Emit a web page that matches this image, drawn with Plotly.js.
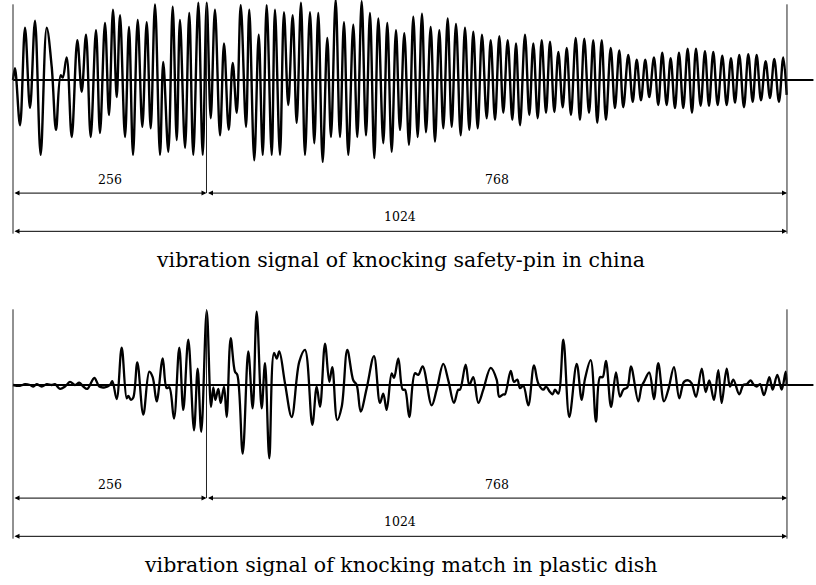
<!DOCTYPE html>
<html><head><meta charset="utf-8">
<script src="https://cdn.plot.ly/plotly-3.0.1.min.js"></script>
<style>html,body{margin:0;padding:0;background:#fff}#c{width:816px;height:585px}</style>
</head><body><div id="c"></div>
<script>
// Top signal: extrema (sample index, amplitude)
const topX = [0,2.6,9.3,15.9,22.5,29.1,36.6,44.6,51.2,56.9,
63.1,65.8,71.0,77.7,85.1,90.9,96.6,102.8,109.8,115.1,
121.7,127.0,132.3,137.2,141.6,148.2,153.5,158.8,165.0,171.1,
176.9,182.2,187.9,194.5,198.8,205.5,211.3,216.6,220.9,227.6,
233.2,238.5,245.2,251.0,256.3,261.6,267.2,273.9,279.2,285.4,
290.7,296.0,301.3,308.3,312.6,319.2,325.1,330.4,335.6,342.3,
346.6,353.2,358.5,364.2,370.0,375.3,381.0,386.3,392.9,398.6,
403.9,409.7,415.8,420.7,426.9,432.6,437.9,443.6,450.2,455.5,
461.3,467.0,472.3,478.0,483.3,489.9,495.2,501.0,506.7,512.0,
517.7,523.9,529.6,535.4,541.1,546.4,552.6,558.3,564.0,569.3,
575.1,580.4,586.1,592.3,598.0,603.7,609.0,614.8,620.5,626.7,
632.0,637.7,643.4,648.7,654.5,660.6,665.5,670.8,677.4,683.1,
688.4,694.2,699.5,705.2,710.5,716.2,721.5,727.3,732.6,738.2,
744.5,750.1,755.8,762.1,767.7,773.0,778.9,784.5,790.8,796.4,
802.1,807.4,814.0,819.9,825.2,830.8,836.5,841.8,848.0,853.7,
859.0,864.8,870.1,875.8,881.1,886.8,892.6,898.3,903.6,909.8,
915.5,920.8,926.5,932.3,938.4,944.2,949.9,955.2,960.9,967.1,
972.8,978.6,983.9,989.6,995.8,1001.5,1007.2,1013.4,1019.1,1023.6];
const topY = [0,0.15,-0.58,0.67,-0.36,0.76,-0.96,0.67,0.17,-0.64,
0.06,0.03,0.29,-0.73,0.51,-0.15,0.58,-0.73,0.64,-0.68,
0.73,-0.45,0.90,-0.22,0.83,-0.73,0.68,-0.96,0.77,-0.60,
0.74,-0.62,0.97,-0.96,0.23,-0.92,0.94,-0.77,0.77,-0.87,
0.86,-0.96,0.99,-0.96,0.99,-0.49,0.90,-0.71,0.47,-0.64,
0.22,-0.42,0.96,-0.60,0.90,-1.03,0.58,-0.96,0.96,-0.96,
0.90,-0.96,0.87,-0.32,0.83,-0.55,0.99,-0.96,0.87,-0.81,
0.86,-1.05,0.54,-0.73,1.03,-0.73,0.74,-0.96,0.71,-0.73,
1.01,-0.71,0.86,-1.0,0.79,-0.81,0.73,-0.92,0.64,-0.64,
0.60,-0.83,0.81,-0.73,0.85,-0.67,0.68,-0.79,0.64,-0.62,
0.79,-0.60,0.72,-0.71,0.67,-0.64,0.62,-0.62,0.58,-0.49,
0.51,-0.51,0.56,-0.42,0.51,-0.51,0.47,-0.58,0.58,-0.45,
0.47,-0.49,0.51,-0.42,0.49,-0.41,0.36,-0.35,0.41,-0.45,
0.54,-0.51,0.53,-0.42,0.51,-0.55,0.51,-0.51,0.41,-0.36,
0.38,-0.35,0.32,-0.28,0.26,-0.26,0.26,-0.22,0.29,-0.32,
0.35,-0.32,0.28,-0.36,0.35,-0.36,0.40,-0.42,0.40,-0.33,
0.37,-0.33,0.36,-0.32,0.31,-0.32,0.28,-0.29,0.32,-0.35,
0.33,-0.28,0.32,-0.26,0.24,-0.23,0.27,-0.28,0.29,-0.19];

// Bottom signal: extrema (sample index, amplitude)
const botX = [0,9.3,15.9,22.5,26.9,31.3,38.0,44.6,51.2,55.6,
62.2,68.8,75.4,82.0,87.7,93.0,98.3,107.6,114.2,121.7,
128.3,131.4,137.2,143.8,150.4,152.5,156.1,159.2,164.5,172.4,
180.3,184.8,190.1,198.1,203.3,206.8,213.0,220.0,225.3,231.9,
239.5,244.3,249.1,256.3,262.0,265.0,267.7,271.6,274.8,279.2,
282.7,288.0,293.7,296.8,303.9,311.3,317.1,322.4,329.0,333.4,
339.1,345.3,348.9,352.3,359.9,368.7,378.8,386.3,396.0,401.8,
406.2,412.8,418.5,422.4,429.0,434.9,442.3,450.2,454.7,460.0,
468.0,477.6,485.5,489.9,494.4,501.0,504.1,509.8,515.6,518.6,
524.3,531.8,536.2,542.0,553.9,560.5,569.3,575.9,583.4,589.1,
591.4,598.9,603.7,609.0,615.6,622.2,632.0,639.9,643.4,648.7,
650.9,658.5,662.8,667.2,670.8,675.2,681.8,689.3,695.0,701.6,
705.2,710.5,714.0,717.0,721.5,728.1,736.0,745.8,752.4,756.8,
764.3,771.3,776.6,780.2,784.5,791.2,797.8,803.1,807.5,812.8,
817.6,827.3,831.8,834.8,841.8,848.0,853.7,861.3,867.0,874.5,
881.5,887.7,893.4,897.9,903.6,911.2,916.5,921.2,927.4,933.1,
937.6,944.2,948.6,953.0,960.9,966.2,970.7,976.0,979.4,983.9,
988.3,993.6,1000.6,1005.1,1011.2,1017.0,1022.3,1023.6];
const botY = [0,-0.01,0.01,0,-0.02,0.01,-0.02,0.01,0,0.01,
-0.05,-0.02,0.04,0,0.03,-0.02,-0.05,0.09,-0.02,-0.03,
0,0.05,-0.18,0.48,-0.17,-0.14,-0.19,-0.16,0.29,-0.38,
0.17,0.10,-0.21,0.34,-0.04,-0.03,-0.43,0.48,-0.32,0.58,
-0.58,0.21,-0.60,0.95,-0.28,-0.03,-0.19,-0.05,-0.23,-0.02,
-0.41,0.60,0.17,0.13,-0.88,0.43,-0.30,0.94,-0.30,0.28,
-0.94,0.41,0.34,0.43,0.02,-0.41,0.30,0.45,-0.51,-0.02,
-0.28,0.53,0.04,0.23,-0.45,-0.28,0.45,0.06,0,-0.34,
-0.04,0.37,-0.23,-0.11,-0.32,0.15,0.09,0.34,-0.06,-0.06,
-0.41,0.15,0.13,0.24,-0.26,-0.06,0.27,0.06,-0.23,-0.06,
-0.06,0.26,0,0.10,-0.23,-0.06,0.22,0.07,-0.15,-0.12,
-0.12,0.18,0.04,0.07,-0.04,-0.01,-0.26,0.25,0.02,-0.06,
-0.02,-0.09,-0.12,-0.06,-0.11,0.58,-0.41,0.27,-0.19,0.08,
0.32,-0.47,0.10,0.10,0.31,-0.28,0.16,-0.15,-0.06,-0.03,
0.24,-0.21,-0.01,0.04,0.16,-0.18,0.28,-0.21,-0.06,0.23,
-0.17,0.04,0.06,0.02,-0.15,0.21,-0.09,0.06,-0.19,0.19,
-0.23,0.21,-0.02,0.07,-0.12,0,0.01,0.06,0.01,-0.02,
0.01,-0.13,0.10,-0.06,0.13,-0.06,0.17,0];

// Segment marks and labels
const splitPoints = [0, 256, 1024];
const segLabels = ["256", "768"];
const totalLabel = "1024";
const titles = ["vibration signal of knocking safety-pin in china",
                "vibration signal of knocking match in plastic dish"];

const serif = "DejaVu Serif, Liberation Serif, serif";
const XR = [-17.2, 1062.4];

const traces = [
  {x: topX, y: topY, xaxis: 'x', yaxis: 'y', mode: 'lines',
   line: {color: '#000', width: 2.4, shape: 'spline', smoothing: 1}, hoverinfo: 'skip'},
  {x: botX, y: botY, xaxis: 'x2', yaxis: 'y2', mode: 'lines',
   line: {color: '#000', width: 2.3, shape: 'spline', smoothing: 1}, hoverinfo: 'skip'}
];

const shapes = [];
const annotations = [];
const panels = [{xr: 'x', yr: 'y'}, {xr: 'x2', yr: 'y2'}];
const dimY1 = -1.45, dimY2 = -1.94, labY1 = -1.27, labY2 = -1.75, vTop = 0.97, vBot = -1.97;
panels.forEach((p, i) => {
  shapes.push({type: 'line', xref: p.xr, yref: p.yr, x0: 0, x1: 1059, y0: 0, y1: 0,
               line: {color: '#000', width: 2}});
  shapes.push({type: 'line', xref: p.xr, yref: p.yr, x0: splitPoints[0], x1: splitPoints[0], y0: vTop, y1: vBot,
               line: {color: '#222', width: 1}});
  shapes.push({type: 'line', xref: p.xr, yref: p.yr, x0: splitPoints[2], x1: splitPoints[2], y0: vTop, y1: vBot,
               line: {color: '#222', width: 1}});
  shapes.push({type: 'line', xref: p.xr, yref: p.yr, x0: splitPoints[1], x1: splitPoints[1], y0: vTop, y1: dimY1,
               line: {color: '#222', width: 1}});
  const arrows = [[splitPoints[0], splitPoints[1], dimY1], [splitPoints[1], splitPoints[2], dimY1],
                  [splitPoints[0], splitPoints[2], dimY2]];
  arrows.forEach(a => {
    annotations.push({xref: p.xr, yref: p.yr, axref: p.xr, ayref: p.yr, x: a[1], y: a[2], ax: a[0], ay: a[2],
      text: '', showarrow: true, arrowside: 'end+start', arrowhead: 2, arrowsize: 1, arrowwidth: 1,
      arrowcolor: '#000', standoff: 0, startstandoff: 0});
  });
  annotations.push({xref: p.xr, yref: p.yr, x: (splitPoints[0] + splitPoints[1]) / 2, y: labY1, text: segLabels[0],
    showarrow: false, font: {family: serif, size: 12.5, color: '#000'}});
  annotations.push({xref: p.xr, yref: p.yr, x: (splitPoints[1] + splitPoints[2]) / 2, y: labY1, text: segLabels[1],
    showarrow: false, font: {family: serif, size: 12.5, color: '#000'}});
  annotations.push({xref: p.xr, yref: p.yr, x: (splitPoints[0] + splitPoints[2]) / 2, y: labY2, text: totalLabel,
    showarrow: false, font: {family: serif, size: 12.5, color: '#000'}});
});
annotations.push({xref: 'paper', yref: 'paper', x: 400.5/816, y: 1 - 260/585, text: titles[0], showarrow: false,
  xanchor: 'center', yanchor: 'middle', font: {family: serif, size: 20.5, color: '#000'}});
annotations.push({xref: 'paper', yref: 'paper', x: 400.5/816, y: 1 - 565/585, text: titles[1], showarrow: false,
  xanchor: 'center', yanchor: 'middle', font: {family: serif, size: 20.5, color: '#000'}});

const layout = {
  width: 816, height: 585, margin: {l: 0, r: 0, t: 0, b: 0},
  paper_bgcolor: '#fff', plot_bgcolor: 'rgba(0,0,0,0)', showlegend: false,
  xaxis: {range: XR, visible: false, domain: [0, 1], anchor: 'y'},
  yaxis: {range: [-2.6923, 1.02564], visible: false, domain: [1 - 290/585, 1], anchor: 'x'},
  xaxis2: {range: XR, visible: false, domain: [0, 1], anchor: 'y2'},
  yaxis2: {range: [-2.5641, 1.15385], visible: false, domain: [0, 290/585], anchor: 'x2'},
  shapes: shapes, annotations: annotations
};
Plotly.newPlot('c', traces, layout, {staticPlot: true, displayModeBar: false});
</script></body></html>
